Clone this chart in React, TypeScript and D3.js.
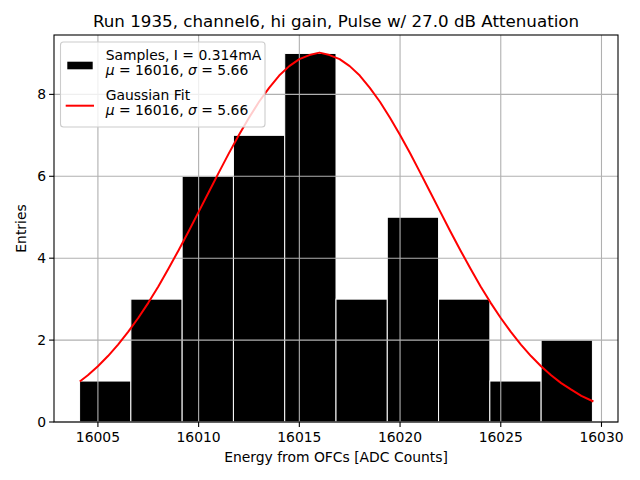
import React from "react";
import * as d3 from "d3";

const binStart = 16004.09;
const binWidth = 2.546;
const counts = [1, 3, 6, 7, 9, 3, 5, 3, 1, 2];

const fitX = [16004.1, 16004.5, 16005, 16005.5, 16006, 16006.5, 16007, 16007.5, 16008, 16008.5, 16009, 16009.5, 16010, 16010.5, 16011, 16011.5, 16012, 16012.5, 16013, 16013.5, 16014, 16014.5, 16015, 16015.5, 16016, 16016.5, 16017, 16017.5, 16018, 16018.5, 16019, 16019.5, 16020, 16020.5, 16021, 16021.5, 16022, 16022.5, 16023, 16023.5, 16024, 16024.5, 16025, 16025.5, 16026, 16026.5, 16027, 16027.5, 16028, 16028.5, 16029, 16029.6];
const fitY = [0.99, 1.14, 1.36, 1.61, 1.89, 2.2, 2.54, 2.91, 3.31, 3.74, 4.19, 4.65, 5.13, 5.61, 6.09, 6.56, 7.01, 7.43, 7.82, 8.16, 8.46, 8.69, 8.86, 8.96, 9.02, 8.96, 8.86, 8.69, 8.46, 8.16, 7.82, 7.43, 7.01, 6.56, 6.09, 5.61, 5.13, 4.65, 4.19, 3.74, 3.31, 2.91, 2.54, 2.2, 1.89, 1.61, 1.36, 1.14, 0.95, 0.79, 0.64, 0.5];

const xTicks = [16005, 16010, 16015, 16020, 16025, 16030];
const yTicks = [0, 2, 4, 6, 8];

const title = "Run 1935, channel6, hi gain, Pulse w/ 27.0 dB Attenuation";
const xLabel = "Energy from OFCs [ADC Counts]";
const yLabel = "Entries";

export default function App() {
  const W = 640, H = 480;
  const left = 54, right = 618, top = 35, bottom = 422;
  const x = d3.scaleLinear().domain([16002.82, 16030.82]).range([left, right]);
  const y = d3.scaleLinear().domain([0, 9.45]).range([bottom, top]);
  const line = d3.line<number>().x((_, i) => x(fitX[i])).y((d) => y(d));
  const font = "DejaVu Sans, sans-serif";
  const grid = "#b0b0b0";
  return (
    <svg width={W} height={H} style={{ position: "absolute", left: 0, top: 0, background: "#fff" }} fontFamily={font}>
      <rect x={0} y={0} width={W} height={H} fill="#fff" />
      {counts.map((c, i) => {
        const x0 = x(binStart + i * binWidth);
        const x1 = x(binStart + (i + 1) * binWidth);
        return (
          <rect key={i} x={x0} y={y(c)} width={x1 - x0} height={y(0) - y(c)} fill="#000" stroke="#fff" strokeWidth={1} />
        );
      })}
      {xTicks.map((t) => (
        <line key={"gx" + t} x1={x(t)} x2={x(t)} y1={top} y2={bottom} stroke={grid} strokeWidth={1.1} />
      ))}
      {yTicks.map((t) => (
        <line key={"gy" + t} x1={left} x2={right} y1={y(t)} y2={y(t)} stroke={grid} strokeWidth={1.1} />
      ))}
      <path d={line(fitY) || ""} fill="none" stroke="#ff0000" strokeWidth={2} strokeLinejoin="round" />
      <rect x={left} y={top} width={right - left} height={bottom - top} fill="none" stroke="#000" strokeWidth={1.1} />
      {xTicks.map((t) => (
        <g key={"tx" + t}>
          <line x1={x(t)} x2={x(t)} y1={bottom} y2={bottom + 4.9} stroke="#000" strokeWidth={1.1} />
          <text x={x(t)} y={bottom + 19.5} fontSize={13.9} textAnchor="middle" fill="#000">{t}</text>
        </g>
      ))}
      {yTicks.map((t) => (
        <g key={"ty" + t}>
          <line x1={left - 4.9} x2={left} y1={y(t)} y2={y(t)} stroke="#000" strokeWidth={1.1} />
          <text x={left - 8} y={y(t) + 5} fontSize={13.9} textAnchor="end" fill="#000">{t}</text>
        </g>
      ))}
      <text x={(left + right) / 2} y={462} fontSize={13.9} textAnchor="middle" fill="#000">{xLabel}</text>
      <text transform={`translate(26,${(top + bottom) / 2}) rotate(-90)`} fontSize={13.9} textAnchor="middle" fill="#000">{yLabel}</text>
      <text x={(left + right) / 2} y={27} fontSize={16.7} textAnchor="middle" fill="#000">{title}</text>
      <g>
        <rect x={60.5} y={42} width={204.5} height={85} rx={3} fill="#fff" fillOpacity={0.8} stroke="#cccccc" strokeWidth={1.1} />
        <rect x={67.3} y={61.7} width={25.4} height={7.6} fill="#000" />
        <line x1={65.7} x2={94} y1={105.7} y2={105.7} stroke="#ff0000" strokeWidth={2} />
        <text x={105.7} y={60} fontSize={13.9} fill="#000">Samples, I = 0.314mA</text>
        <text x={105.7} y={75} fontSize={13.9} fill="#000">
          <tspan fontStyle="italic">μ</tspan> = 16016, <tspan fontStyle="italic">σ</tspan> = 5.66
        </text>
        <text x={105.7} y={99.5} fontSize={13.9} fill="#000">Gaussian Fit</text>
        <text x={105.7} y={115} fontSize={13.9} fill="#000">
          <tspan fontStyle="italic">μ</tspan> = 16016, <tspan fontStyle="italic">σ</tspan> = 5.66
        </text>
      </g>
    </svg>
  );
}
